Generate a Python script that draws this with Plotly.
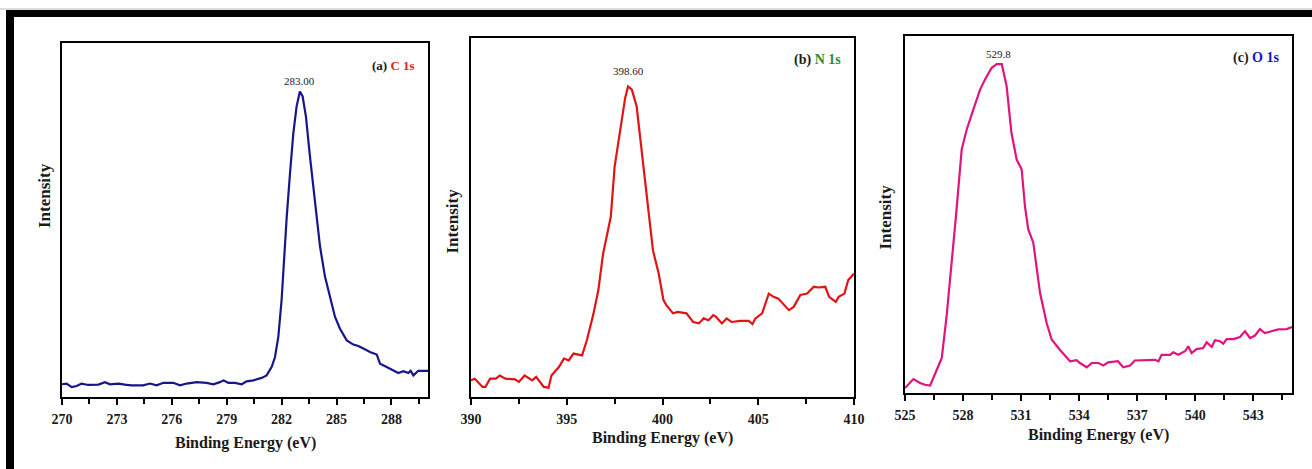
import plotly.graph_objects as go

# ---------------- data ----------------
c1s_energy = [270.0, 270.25, 270.53, 270.8, 271.07, 271.44, 271.99, 272.35, 272.62, 273.08,
              273.44, 273.8, 274.44, 274.81, 275.17, 275.54, 276.08, 276.45, 276.81, 277.36,
              277.9, 278.27, 278.63, 278.82, 279.09, 279.45, 279.82, 280.09, 280.46, 280.91,
              281.18, 281.46, 281.64, 281.82, 282.0, 282.13, 282.28, 282.46, 282.64, 282.82,
              283.0, 283.15, 283.33, 283.55, 283.83, 284.1, 284.37, 284.65, 284.92, 285.19,
              285.56, 285.92, 286.19, 286.47, 286.83, 287.2, 287.38, 287.74, 288.1, 288.38,
              288.65, 288.93, 289.05, 289.2, 289.47, 290.0]
c1s_intensity = [3.6, 3.8, 2.8, 3.1, 3.8, 3.4, 3.5, 4.2, 3.6, 3.8,
                 3.5, 3.3, 3.3, 3.8, 3.3, 4.0, 4.0, 3.3, 3.8, 4.2,
                 4.0, 3.6, 4.2, 4.7, 4.0, 4.0, 3.6, 4.4, 4.7, 5.4,
                 6.1, 8.5, 11.3, 17.0, 27.4, 38.7, 50.9, 63.2, 74.5, 82.1,
                 86.3, 84.9, 79.2, 67.9, 55.7, 42.5, 34.0, 28.3, 22.6, 19.3,
                 16.0, 14.8, 14.4, 13.7, 12.7, 12.0, 9.4, 8.5, 7.5, 6.8,
                 7.3, 6.8, 7.4, 6.1, 7.4, 7.4]

n1s_energy = [390.0, 390.2, 390.6, 390.75, 391.0, 391.3, 391.5, 391.8, 392.3, 392.5,
              392.8, 393.2, 393.4, 393.8, 394.05, 394.2, 394.6, 394.85, 395.1, 395.35,
              395.8, 396.05, 396.4, 396.65, 396.9, 397.3, 397.5, 397.8, 398.05, 398.2,
              398.4, 398.65, 398.9, 399.2, 399.5, 399.8, 400.05, 400.2, 400.55, 400.8,
              401.25, 401.6, 401.9, 402.15, 402.4, 402.65, 402.8, 403.1, 403.35, 403.6,
              404.05, 404.5, 404.7, 404.85, 405.2, 405.55, 405.8, 406.05, 406.35, 406.6,
              406.85, 407.2, 407.55, 407.9, 408.15, 408.5, 408.7, 409.05, 409.2, 409.5,
              409.7, 410.0]
n1s_intensity = [4.65, 5.1, 2.8, 2.8, 5.1, 5.1, 6.0, 5.1, 4.9, 4.2,
                 6.0, 4.65, 5.6, 2.8, 2.6, 6.0, 8.4, 10.7, 10.2, 12.1,
                 11.6, 15.8, 23.3, 29.8, 40.0, 50.2, 64.2, 75.3, 83.3, 86.5,
                 85.6, 80.9, 68.8, 54.9, 40.9, 34.4, 27.0, 25.6, 23.3, 23.7,
                 23.3, 20.9, 20.5, 21.9, 21.4, 22.8, 22.3, 20.5, 21.9, 20.9,
                 21.2, 21.2, 20.3, 21.9, 23.3, 28.8, 27.9, 27.4, 25.6, 24.2,
                 25.1, 28.4, 28.8, 30.7, 30.5, 30.7, 27.9, 26.5, 27.9, 28.8,
                 32.6, 34.4]

o1s_energy = [525.0, 525.43, 525.78, 526.03, 526.3, 526.55, 526.9, 527.15, 527.4, 527.65,
              527.93, 528.19, 528.53, 528.88, 529.14, 529.48, 529.74, 530.0, 530.25, 530.5,
              530.77, 531.03, 531.2, 531.37, 531.63, 531.98, 532.32, 532.58, 533.0, 533.53,
              533.87, 534.04, 534.39, 534.65, 535.0, 535.25, 535.5, 536.0, 536.28, 536.63,
              536.88, 537.49, 537.92, 538.1, 538.26, 538.7, 538.86, 539.12, 539.47, 539.64,
              539.81, 540.07, 540.41, 540.59, 540.85, 541.02, 541.28, 541.45, 541.62, 541.97,
              542.31, 542.57, 542.83, 543.09, 543.34, 543.6, 543.95, 544.29, 544.72, 545.0]
o1s_intensity = [1.4, 3.9, 2.8, 2.3, 2.1, 5.1, 9.8, 21.5, 35.5, 50.5,
                 68.2, 73.8, 79.4, 85.0, 87.9, 91.1, 92.1, 92.1, 86.0, 72.9,
                 65.4, 62.6, 52.3, 45.8, 42.1, 28.0, 19.6, 15.0, 12.1, 8.9,
                 9.2, 8.4, 7.2, 8.4, 8.4, 7.7, 8.6, 8.9, 7.2, 7.7,
                 9.1, 9.3, 9.3, 8.9, 10.7, 10.7, 11.4, 10.7, 11.7, 13.1,
                 11.2, 12.3, 12.6, 14.2, 12.9, 14.8, 14.5, 13.8, 15.1, 15.1,
                 15.7, 17.3, 15.4, 16.1, 17.9, 16.8, 17.3, 17.8, 17.9, 18.5]

x_ranges = [[270, 290], [390, 410], [525, 545]]
x_tick0 = [270, 390, 525]
x_dtick = [3, 5, 3]
peak_labels = ["283.00", "398.60", "529.8"]
peak_positions = [283.0, 398.2, 529.85]
peak_heights = [86.3, 86.5, 92.1]
panel_letters = ["(a)", "(b)", "(c)"]
panel_names = ["C 1s", "N 1s", "O 1s"]

# ---------------- styling ----------------
W, H = 1312, 469
FONT = "Liberation Serif"
line_colors = ["#16168a", "#e01414", "#e0147c"]
name_colors = ["#e02424", "#2e8b2e", "#1515d0"]
peak_shift = [3, 7, 2]
xtitle_offset = [46, 41, 42]
ytitle_dx = [18, 19, 20]

# plot frames in pixels (left, right, top, bottom)
frames = [(62, 428, 43, 397), (471, 854, 38, 397), (905, 1292, 36, 393)]

fig = go.Figure()
series = [(c1s_energy, c1s_intensity), (n1s_energy, n1s_intensity), (o1s_energy, o1s_intensity)]

layout = dict(
    width=W, height=H, autosize=False,
    margin=dict(l=0, r=0, t=0, b=0, pad=0),
    paper_bgcolor="white", plot_bgcolor="white",
    showlegend=False,
    font=dict(family=FONT, color="black"),
)
annotations = []
shapes = []

for i, (xs, ys) in enumerate(series):
    n = "" if i == 0 else str(i + 1)
    fig.add_trace(go.Scatter(x=xs, y=ys, mode="lines",
                             line=dict(color=line_colors[i], width=2.2),
                             xaxis="x" + n, yaxis="y" + n, hoverinfo="skip"))
    l, r, t, b = frames[i]
    layout["xaxis" + n] = dict(
        domain=[l / W, r / W], anchor="y" + n, range=x_ranges[i],
        tick0=x_tick0[i], dtick=x_dtick[i], ticks="outside", ticklen=6, tickwidth=1.5,
        tickcolor="black", automargin=False,
        minor=dict(ticks="outside", ticklen=5, tickwidth=1.5, tickcolor="black",
                   dtick=x_dtick[i] / 2, tick0=x_tick0[i]),
        showline=True, mirror=True, linecolor="black", linewidth=1.8,
        showgrid=False, zeroline=False,
        tickfont=dict(family=FONT, size=14, color="#1a1a1a", weight="bold"),
        ticklabelstandoff=2,
    )
    layout["yaxis" + n] = dict(
        domain=[1 - b / H, 1 - t / H], anchor="x" + n, range=[0, 100],
        showticklabels=False, ticks="", showline=True, mirror=True, automargin=False,
        linecolor="black", linewidth=1.8, showgrid=False, zeroline=False,
    )
    # axis titles
    annotations.append(dict(
        text="<b>Binding Energy (eV)</b>", xref="paper", yref="paper",
        x=(l + r) / 2 / W, y=1 - (b + xtitle_offset[i]) / H, showarrow=False,
        font=dict(family=FONT, size=16, color="#1a1a1a"), xanchor="center", yanchor="middle"))
    annotations.append(dict(
        text="<b>Intensity</b>", xref="paper", yref="paper",
        x=(l - ytitle_dx[i]) / W, y=1 - ((t + b) / 2 - 24 if i == 0 else (t + b) / 2 + 3) / H,
        showarrow=False, textangle=-90,
        font=dict(family=FONT, size=17, color="#1a1a1a"), xanchor="center", yanchor="middle"))
    # panel label
    annotations.append(dict(
        text="<b>%s </b><b><span style='color:%s'>%s</span></b>" % (panel_letters[i], name_colors[i], panel_names[i]),
        xref="paper", yref="paper", x=(r - 11) / W, y=1 - (t + 22) / H,
        showarrow=False, xanchor="right", yanchor="middle",
        font=dict(family=FONT, size=14 if i else 13, color="#1a1a1a")))
    # peak label
    annotations.append(dict(
        text=peak_labels[i], xref="x" + n, yref="y" + n,
        x=peak_positions[i], y=peak_heights[i], yshift=peak_shift[i], showarrow=False,
        xanchor="center", yanchor="bottom",
        font=dict(family=FONT, size=11, color="#1a1a1a")))

# black page border (top and left)
shapes.append(dict(type="rect", xref="paper", yref="paper", x0=6 / W, x1=1, y0=1 - 17 / H, y1=1 - 10 / H,
                   fillcolor="black", line=dict(width=0), layer="above"))
shapes.append(dict(type="rect", xref="paper", yref="paper", x0=6 / W, x1=14 / W, y0=0, y1=1 - 10 / H,
                   fillcolor="black", line=dict(width=0), layer="above"))
shapes.append(dict(type="line", xref="paper", yref="paper", x0=0, x1=1, y0=1 - 9 / H, y1=1 - 9 / H,
                   line=dict(color="#bbbbbb", width=1)))

layout["annotations"] = annotations
layout["shapes"] = shapes
fig.update_layout(**layout)
fig.write_html("out.html",
               post_script="document.body.style.margin='0';document.documentElement.style.overflow='hidden';")
